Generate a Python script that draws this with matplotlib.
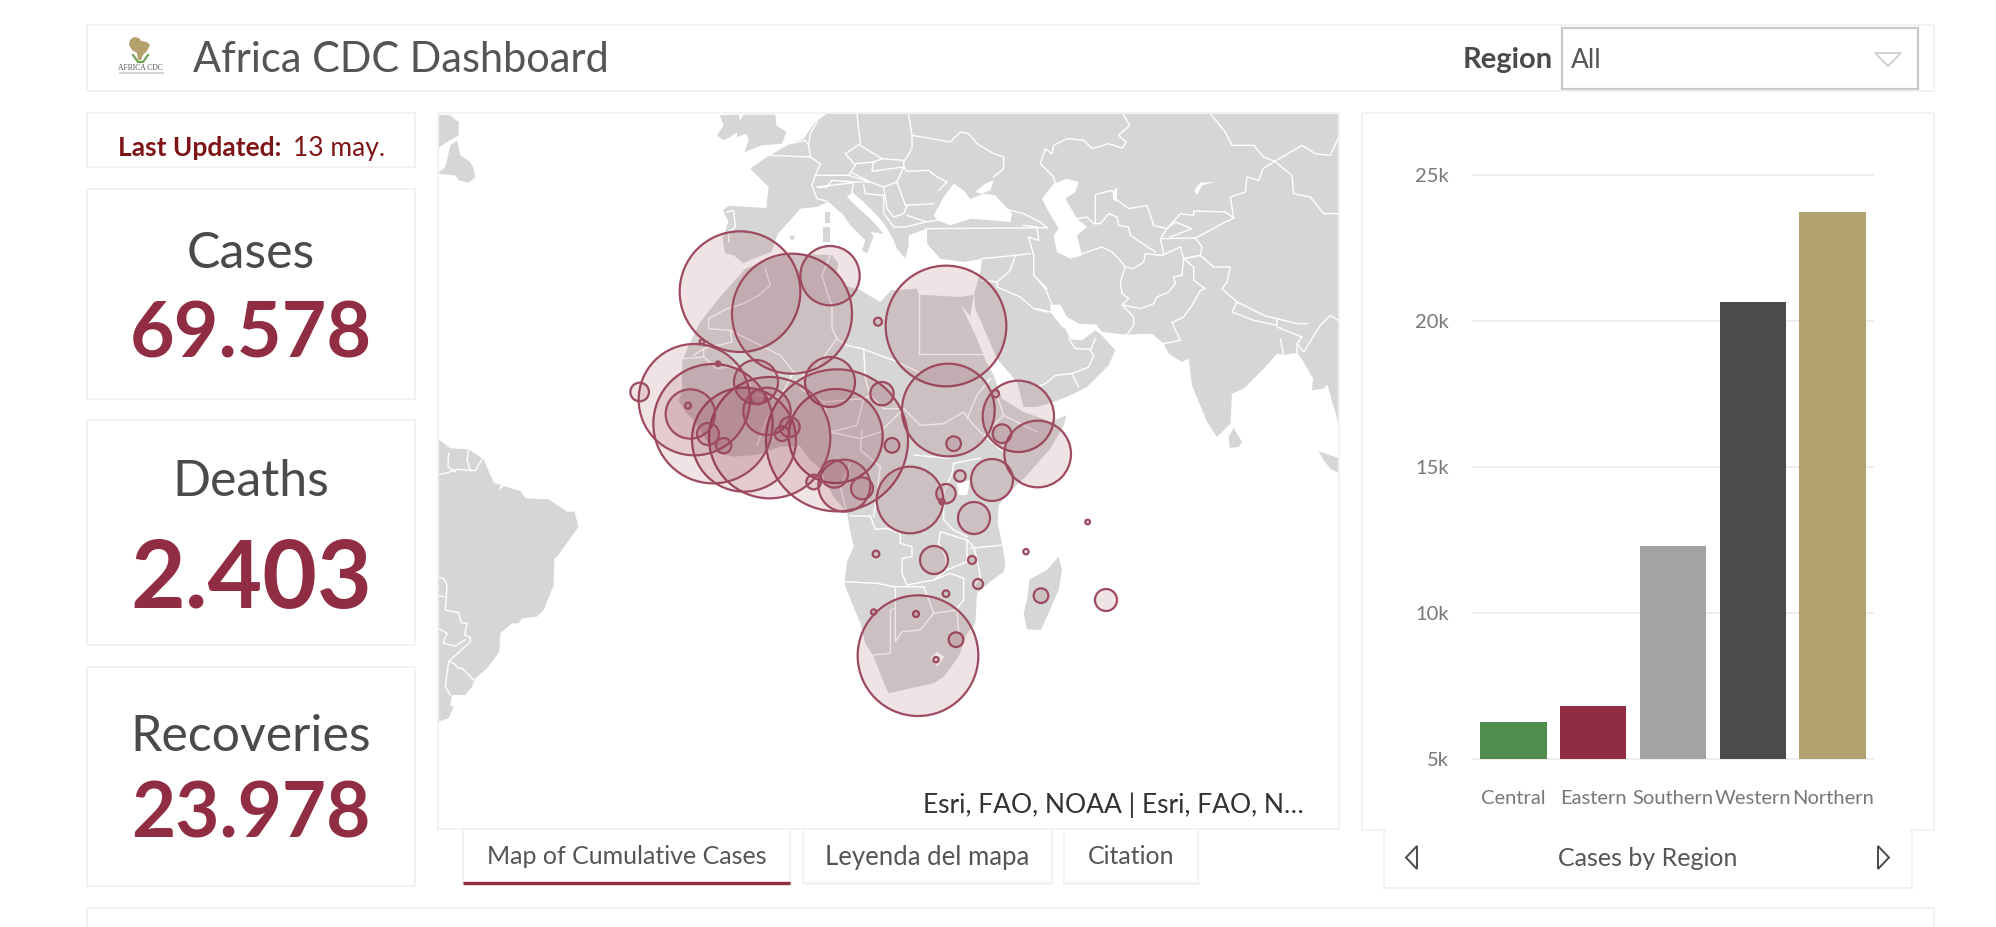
import matplotlib
matplotlib.use("Agg")
import matplotlib.pyplot as plt
from matplotlib.patches import Rectangle, Polygon, Circle

plt.rcParams['font.family'] = ['Lato', 'DejaVu Sans']

W, H = 1996, 927

# kpi cards
kpi_names = ["Cases", "Deaths", "Recoveries"]
kpi_values = ["69.578", "2.403", "23.978"]

# bar chart
regions = ["Central", "Eastern", "Southern", "Western", "Northern"]
region_cases = [6270, 6810, 12290, 20650, 23730]
region_colors = ["#508d4d", "#912d42", "#a3a3a3", "#4b4b4b", "#b1a26f"]
y_ticks = [5000, 10000, 15000, 20000, 25000]
y_labels = ["5k", "10k", "15k", "20k", "25k"]

tabs = ["Map of Cumulative Cases", "Leyenda del mapa", "Citation"]


def at(ox, oy, pts):
    return [(x + ox, y + oy) for x, y in pts]


# map outlines in map units (3 units per pixel)
south_america = at(0, 954, [(-5, 20), (40, 55), (95, 58), (140, 88), (170, 158), (192, 165), (182, 185), (200, 168),
                            (250, 183), (265, 205), (335, 208), (390, 245), (412, 245), (425, 290), (360, 380),
                            (352, 385), (350, 465), (320, 540), (300, 560), (255, 565), (245, 580), (225, 580),
                            (190, 610), (187, 665), (150, 715), (115, 745), (105, 770), (85, 795), (45, 795),
                            (40, 825), (50, 830), (35, 865), (-5, 877)])
canada_a = [(0, 8), (40, 10), (65, 30), (65, 70), (30, 90), (0, 110)]
canada_b = [(60, 85), (40, 100), (25, 165), (0, 185), (55, 190), (65, 205), (95, 212), (115, 195), (110, 170),
            (100, 150), (70, 130)]
ireland = [(848, 10), (905, 8), (915, 50), (880, 75), (860, 85), (840, 70), (860, 40)]
britain = at(900, 0, [(0, 40), (20, 8), (115, 8), (118, 40), (148, 60), (135, 95), (75, 100), (22, 120), (35, 85),
                      (28, 65), (0, 75)])
eurasia = (at(900, 0, [(-42, 295), (-26, 281), (88, 288), (95, 225), (40, 170), (90, 135), (150, 100), (200, 80), (235, 30), (270, 5)])
           + at(1800, 0, [(910, 5), (910, 960), (895, 900), (885, 870), (872, 818), (860, 830), (825, 835), (828, 800),
                          (800, 750), (780, 722), (740, 730), (720, 725), (680, 770), (620, 830), (585, 845), (580, 935),
                          (540, 975), (510, 930), (465, 820), (455, 740), (435, 750), (395, 725), (380, 695), (345, 665),
                          (270, 668), (195, 660), (178, 638), (125, 635), (90, 615), (70, 578), (40, 578), (40, 600),
                          (75, 645), (85, 650), (100, 682), (135, 685), (175, 655), (190, 665), (235, 715), (215, 760),
                          (150, 825), (100, 850), (50, 870), (0, 885)])
           + at(900, 0, [(860, 885), (840, 810), (780, 740), (715, 590), (712, 545), (730, 480), (735, 440), (680, 450),
                         (610, 440), (570, 395), (570, 350), (515, 370), (515, 400), (505, 440), (480, 410), (470, 385),
                         (445, 340), (420, 310), (380, 270), (345, 240), (330, 255), (360, 285), (400, 320), (440, 365),
                         (400, 360), (410, 372), (390, 425), (375, 415), (385, 385), (340, 340), (319, 309), (274, 269),
                         (240, 285), (190, 290), (169, 314), (124, 364), (119, 374), (104, 419), (39, 444), (19, 454),
                         (-11, 429), (-36, 424), (-43, 379), (-26, 329)]))
africa = (at(900, 0, [(24, 471), (79, 449), (149, 427), (189, 427), (284, 429), (304, 454), (297, 489), (319, 519), (369, 534),
                      (430, 570), (462, 535), (540, 530), (545, 548), (670, 555), (710, 548), (700, 612), (672, 578),
                      (720, 680), (745, 745), (770, 790), (795, 860), (860, 900), (930, 925)])
          + at(1800, 0, [(30, 935), (88, 910), (80, 940), (40, 1010)])
          + at(900, 954, [(870, 135), (830, 175), (785, 225), (782, 280), (795, 340), (805, 400), (800, 425), (760, 455),
                          (720, 490), (715, 580), (690, 610), (665, 680), (620, 740), (590, 760), (520, 775), (455, 790),
                          (435, 745), (410, 680), (385, 640), (370, 580), (345, 520), (322, 460), (330, 395), (350, 350),
                          (339, 300), (329, 245), (289, 200), (269, 160), (249, 115), (219, 90), (189, 48), (129, 50),
                          (59, 75), (-11, 80)])
          + at(0, 0, [(830, 1020), (770, 925), (745, 900), (725, 865), (735, 840), (735, 750), (755, 700),
                      (790, 630), (854, 549), (899, 499)]))
madagascar = at(900, 954, [(965, 380), (975, 420), (965, 480), (930, 560), (912, 600), (870, 598), (860, 550), (872, 500),
                           (877, 449), (930, 420)])
sri_lanka = at(1800, 0, [(590, 948), (615, 990), (605, 1005), (578, 1008), (575, 975)])
sumatra = at(1800, 0, [(845, 1018), (910, 1040), (910, 1085), (880, 1070), (860, 1045)])
sardinia = at(900, 0, [(259, 344), (279, 344), (279, 389), (259, 389)])
corsica = at(900, 0, [(264, 299), (279, 299), (279, 334), (264, 334)])
balearic = at(900, 0, [(157, 372), (174, 369), (170, 384), (160, 382)])
land_shapes = [south_america, canada_a, canada_b, ireland, britain, eurasia, africa, madagascar, sri_lanka, sumatra,
               sardinia, corsica, balearic]

black_sea = at(900, 0, [(590, 310), (620, 255), (650, 215), (680, 235), (700, 262), (740, 245), (775, 250), (825, 305),
                        (820, 330), (700, 320), (640, 340), (600, 325)])
azov = at(900, 0, [(715, 240), (745, 215), (770, 205), (760, 235), (735, 245)])
caspian = at(1800, 0, [(15, 260), (50, 215), (90, 200), (125, 210), (115, 240), (85, 260), (120, 320), (150, 345),
                       (120, 370), (135, 430), (100, 440), (60, 420), (50, 370), (65, 350), (30, 290)])
aral = at(1800, 0, [(472, 235), (490, 212), (535, 210), (495, 220), (480, 250)])
balkhash = at(1800, 0, [(228, 240), (240, 225), (240, 270), (228, 262)])
victoria = at(900, 954, [(660, 160), (700, 150), (690, 195), (665, 195)])
lesotho = at(900, 954, [(580, 685), (600, 665), (622, 680), (602, 710)])
water_shapes = [black_sea, azov, caspian, aral, balkhash, victoria, lesotho]

# country borders
borders_sa = [[(-5, 135), (25, 130), (60, 118), (115, 122), (135, 88)], [(35, 70), (33, 110), (55, 125)],
              [(95, 60), (90, 90), (100, 122)],
              [(-5, 440), (20, 445), (30, 465), (25, 540), (65, 548), (72, 578), (90, 580), (83, 615), (100, 622),
               (100, 635), (35, 695), (25, 770), (40, 795)],
              [(35, 695), (50, 700), (65, 715), (75, 715), (110, 750)],
              [(-5, 590), (30, 610), (18, 640), (55, 648), (83, 630)], [(-5, 495), (20, 500)]]
borders_eu = [[(160, 95), (205, 85), (215, 100), (220, 135)], [(100, 130), (220, 135), (250, 155), (235, 190), (225, 220), (240, 260), (270, 268)],
              [(215, 100), (220, 65), (240, 30)], [(360, 8), (370, 95), (325, 125), (355, 160), (335, 190), (280, 190), (240, 190)],
              [(370, 100), (410, 125), (435, 140), (410, 150), (355, 155)], [(410, 150), (405, 178), (460, 170), (500, 165), (500, 145), (435, 140)],
              [(515, 8), (525, 70), (525, 110), (500, 150)], [(525, 70), (640, 90), (670, 60), (695, 65), (720, 95), (770, 125), (800, 135), (800, 170), (770, 195)],
              [(500, 165), (510, 178), (575, 175), (600, 195), (630, 210), (605, 235)],
              [(500, 165), (480, 210), (440, 225), (400, 210), (340, 180)], [(335, 190), (400, 210), (350, 210), (285, 205), (270, 225), (240, 225), (350, 212), (345, 238)],
              [(440, 225), (445, 255), (450, 290), (470, 315), (500, 305), (510, 280)], [(380, 220), (385, 245), (440, 250), (440, 305)],
              [(480, 210), (505, 280), (590, 275)], [(510, 310), (570, 330), (600, 325)], [(445, 310), (470, 345), (505, 345), (565, 330)],
              [(570, 350), (930, 347)], [(800, 290), (860, 305), (910, 330), (930, 347)], [(860, 340), (900, 345), (905, 385), (875, 375), (890, 430), (890, 490), (930, 530)],
              [(735, 440), (835, 430), (880, 425)], [(835, 430), (820, 475), (780, 510), (780, 525), (850, 555), (890, 590), (930, 600)], [(780, 510), (735, 505)],
              [(-30, 300), (-10, 295), (-5, 345), (-25, 360), (-25, 390)]]
borders_as = [[(258, 5), (278, 40), (245, 70), (268, 90), (255, 108), (215, 95), (165, 110), (140, 85), (90, 80), (50, 100), (45, 125), (25, 110), (10, 155), (50, 195), (55, 215)],
              [(175, 335), (175, 248), (225, 235), (235, 260), (275, 290), (330, 280), (350, 340), (390, 350), (430, 305), (470, 310), (470, 297), (565, 300), (590, 318), (580, 255), (625, 240), (630, 195), (665, 205), (678, 170), (713, 148), (765, 190), (770, 245), (820, 255), (860, 305), (910, 305)],
              [(520, 5), (565, 60), (585, 100), (650, 100), (680, 135), (713, 148), (795, 100), (835, 125), (880, 130), (910, 65)],
              [(120, 320), (150, 315), (170, 335), (190, 335), (215, 305), (240, 315), (245, 340), (275, 345), (280, 370), (355, 420)],
              [(135, 425), (195, 405), (225, 420), (245, 440), (265, 465), (290, 470), (320, 450), (325, 425), (375, 430), (430, 405), (440, 440), (435, 490), (410, 495), (415, 515), (395, 540), (360, 555), (350, 575), (310, 590), (255, 578)],
              [(265, 465), (250, 510), (255, 545), (275, 560), (255, 578), (290, 615), (290, 640), (270, 668)],
              [(440, 440), (470, 465), (470, 505), (505, 530), (490, 535), (465, 580), (440, 615), (405, 632), (430, 685), (380, 695)],
              [(440, 440), (490, 430), (530, 465), (580, 465), (570, 510), (555, 530), (600, 570), (685, 612), (720, 620), (720, 640), (650, 625), (585, 600), (600, 570)],
              [(720, 620), (780, 635), (810, 635)], [(720, 645), (795, 675), (780, 695), (780, 722)], [(730, 680), (740, 730)],
              [(780, 695), (800, 720), (850, 640), (880, 610), (910, 630)], [(370, 380), (475, 378), (520, 355), (545, 340), (590, 318)],
              [(400, 375), (465, 350), (415, 330), (390, 350), (370, 380), (380, 425)], [(475, 378), (495, 405), (490, 430), (440, 440)],
              [(175, 680), (160, 715), (170, 730), (155, 765), (105, 785), (55, 790), (25, 815), (0, 825)], [(105, 785), (125, 825)], [(95, 680), (115, 710), (160, 712)],
              [(0, 500), (25, 530), (45, 578)], [(0, 590), (40, 600)]]
borders_af_n = [[(280, 430), (255, 490), (270, 540), (285, 580), (285, 650), (300, 680), (330, 700), (375, 710), (470, 745), (545, 780)],
                [(545, 548), (545, 725), (740, 725)], [(380, 710), (385, 800), (400, 850), (440, 890), (500, 890), (550, 940), (620, 935), (680, 900), (710, 940), (735, 965)],
                [(85, 470), (100, 520), (65, 550), (20, 575), (-30, 590), (-85, 620), (-85, 650), (-20, 655), (30, 680), (130, 730), (170, 780), (220, 790), (300, 680)],
                [(-130, 730), (-100, 710), (-100, 735), (-160, 740)], [(-20, 655), (-15, 690), (-100, 710)], [(-100, 735), (-60, 770), (0, 760), (60, 850), (130, 855), (170, 780)],
                [(190, 830), (260, 870), (380, 860), (400, 850)], [(260, 870), (280, 960), (360, 940), (380, 860)], [(130, 855), (90, 920), (60, 1000)], [(280, 960), (370, 980), (430, 960), (500, 890)],
                [(760, 800), (720, 850), (690, 920)], [(780, 850), (800, 910), (900, 960)], [(800, 910), (740, 970), (800, 1020)]]
borders_af_s = [[(340, 258), (400, 258), (415, 298), (450, 295), (490, 310), (490, 340), (525, 350), (525, 380), (495, 385), (495, 430), (510, 465)],
                [(320, 455), (420, 460), (470, 470), (560, 470)], [(510, 465), (590, 450), (630, 420), (690, 395), (690, 330), (610, 305), (605, 340), (625, 380), (630, 420)],
                [(690, 330), (710, 350), (725, 410), (730, 440), (710, 470)], [(700, 355), (800, 345)], [(590, 450), (640, 430), (680, 445), (680, 510), (660, 535), (665, 610)],
                [(475, 475), (475, 535), (460, 540), (460, 670), (410, 675)], [(475, 535), (475, 635), (495, 605), (550, 600), (590, 550), (660, 540)],
                [(560, 470), (570, 495), (590, 550)], [(650, 100), (645, 130), (620, 190), (620, 270), (650, 300), (690, 320)], [(650, 100), (700, 90), (730, 85)],
                [(530, 75), (640, 85)], [(430, 110), (370, 60), (375, 0)], [(430, 110), (420, 190), (410, 260)], [(340, 100), (310, 170), (330, 250)]]
borders = ([at(0, 954, b) for b in borders_sa] + [at(900, 0, b) for b in borders_eu] + [at(1800, 0, b) for b in borders_as]
           + [at(900, 0, b) for b in borders_af_n] + [at(900, 954, b) for b in borders_af_s])

# proportional circles: x, y, radius
circle_x = [909, 1065, 1179, 1527, 1534, 1744, 1802, 1675, 1695, 1550, 1323, 1335, 1179, 1365, 1196, 1200, 998, 921, 828,
            772, 760, 753, 608, 813, 860, 795, 957, 990, 1035, 1058, 963, 1222, 1192, 1130, 1275, 1419, 1527, 1515, 1569,
            1665, 1611, 1317, 1491, 1605, 1767, 1812, 1623, 1527, 1437, 1310, 1557, 1497, 1443, 2007, 1952]
circle_y = [539, 605, 491, 642, 894, 913, 1026, 845, 965, 995, 629, 845, 810, 1000, 972, 985, 977, 983, 935,
            863, 906, 881, 840, 966, 1001, 689, 810, 898, 965, 945, 855, 1121, 1086, 1110, 1129, 1164, 1145, 1169, 1092,
            1104, 1218, 1326, 1344, 1344, 1319, 1451, 1416, 1445, 1506, 1500, 1583, 1643, 1631, 1464, 1230]
circle_r = [181, 180, 89, 181, 139, 107, 100, 11, 28, 22, 12, 35, 75, 22, 141, 213, 182, 156, 179,
            167, 74, 9, 28, 33, 23, 7, 66, 71, 22, 30, 22, 78, 41, 22, 33, 100, 29, 8, 17,
            63, 48, 10, 42, 12, 8, 22, 15, 10, 9, 8, 22, 8, 181, 33, 7]
filled_dot = (843, 755, 8)

logo_africa = [(130, 40), (134, 37), (139, 38), (141, 41), (147, 42), (150, 45), (147, 51), (143, 55), (141, 60), (138, 60),
               (137, 53), (132, 50), (129, 45)]

INK = "#4a4a4a"
THIN = "#555555"
RED = "#912d42"
PANEL = "#f2f2f2"

fig = plt.figure(figsize=(W / 100, H / 100), dpi=100, facecolor="white")


def px_axes(x0, y0, x1, y1):
    return fig.add_axes([x0 / W, 1 - y1 / H, (x1 - x0) / W, (y1 - y0) / H])


bg = px_axes(0, 0, W, H)
bg.set_xlim(0, W)
bg.set_ylim(H, 0)
bg.axis("off")


def panel(x0, y0, x1, y1, ec=PANEL, lw=1.4):
    bg.add_patch(Rectangle((x0, y0), x1 - x0, y1 - y0, fc="white", ec=ec, lw=lw))


# panels
panel(87, 25, 1934, 91)
panel(87, 113, 415, 167)
panel(87, 189, 415, 399)
panel(87, 420, 415, 645)
panel(87, 667, 415, 886)
panel(438, 113, 1339, 829)
panel(1384, 800, 1912, 888)
panel(1362, 113, 1934, 830)
bg.add_patch(Rectangle((1386, 826), 524, 8, fc="white", ec="none", zorder=2))
panel(87, 908, 1934, 940)

# header
bg.add_patch(Polygon(logo_africa, fc="#b3a06a", ec="none"))
bg.plot([133, 138, 140], [55, 62, 62], color="#6fa35a", lw=1.6)
bg.plot([148, 143, 141], [55, 62, 62], color="#6fa35a", lw=1.6)
bg.text(140.5, 68, "AFRICA CDC", fontsize=5.5, family="Liberation Serif", color="#555555", ha="center", va="center")
bg.plot([120, 163], [73, 73], color="#cccccc", lw=1.2)
bg.text(193, 60, "Africa CDC Dashboard", fontsize=29.9, color=THIN, ha="left", va="center")
bg.text(1553, 60, "Region", fontsize=21, fontweight="bold", color=INK, ha="right", va="center")
bg.add_patch(Rectangle((1562, 28), 356, 61, fc="white", ec="#c9c9c9", lw=1.6))
bg.text(1571, 60, "All", fontsize=19, color=THIN, ha="left", va="center")
bg.add_patch(Polygon([(1875, 53), (1901, 53), (1888, 66)], fc="white", ec="#cfcfcf", lw=1.3))

# last updated
bg.text(118, 148, "Last Updated:", fontsize=19, fontweight="bold", color="#7d1416", ha="left", va="center")
bg.text(293, 148, "13 may.", fontsize=19, color="#7d1416", ha="left", va="center")

# kpi cards
for name, value, yn, yv, fsv in zip(kpi_names, kpi_values, [254, 482, 737], [335, 581, 816], [55.5, 68, 55]):
    bg.text(251, yn, name, fontsize=36, color=INK, ha="center", va="center")
    bg.text(251, yv, value, fontsize=fsv, fontweight="bold", color=RED, ha="center", va="center")

# tabs
for (x0, x1), label, fs in zip([(463, 790), (803, 1052), (1064, 1198)], tabs, [18, 18.5, 18]):
    bg.plot([x0, x0], [829, 883], color=PANEL, lw=1.4)
    bg.plot([x1, x1], [829, 883], color=PANEL, lw=1.4)
    bg.plot([x0, x1], [883, 883], color=PANEL, lw=2.2)
    bg.text((x0 + x1) / 2, 857, label, fontsize=fs, color=THIN, ha="center", va="center")
bg.plot([463, 790], [882.5, 882.5], color=RED, lw=2.4, solid_capstyle="butt")

# chart footer
bg.text(1648, 859, "Cases by Region", fontsize=18, color=THIN, ha="center", va="center")
bg.add_patch(Polygon([(1417, 846), (1417, 869), (1406, 857.5)], fc="white", ec=INK, lw=1.4))
bg.add_patch(Polygon([(1878, 846), (1878, 869), (1889, 857.5)], fc="white", ec=INK, lw=1.4))

# map
ax_map = px_axes(439, 114, 1338, 828)
ax_map.set_xlim(6, 2703)
ax_map.set_ylim(2148, 6)
ax_map.axis("off")
ax_map.patch.set_alpha(0)
for shape in land_shapes:
    ax_map.add_patch(Polygon(shape, fc="#d6d6d6", ec="none", zorder=1))
for shape in water_shapes:
    ax_map.add_patch(Polygon(shape, fc="white", ec="none", zorder=2))
for line in borders:
    ax_map.plot([p[0] for p in line], [p[1] for p in line], color="white", lw=1.0, zorder=3, solid_joinstyle="round")
for cx, cy, r in zip(circle_x, circle_y, circle_r):
    ax_map.add_patch(Circle((cx, cy), r, fc=(0.557, 0.173, 0.259, 0.13), ec="#9e4b60", lw=1.6, zorder=4))
ax_map.add_patch(Circle(filled_dot[:2], filled_dot[2], fc="#9e4b60", ec="#9e4b60", lw=1, zorder=5))
fig.text(923 / W, 1 - 805 / H, "Esri, FAO, NOAA | Esri, FAO, N…", fontsize=19, color="#323232", ha="left", va="center")

# bars
ax = px_axes(1473.5, 175, 1872.5, 759)
ax.patch.set_alpha(0)
ax.bar(range(len(regions)), region_cases, width=0.83, color=region_colors, zorder=3)
ax.set_xlim(-0.5, 4.5)
ax.set_ylim(5000, 25000)
ax.set_yticks(y_ticks, y_labels)
ax.set_xticks(range(len(regions)), regions)
ax.tick_params(axis="both", length=0, labelsize=14.5, labelcolor="#777777")
ax.tick_params(axis="y", pad=18)
ax.tick_params(axis="x", pad=22)
ax.grid(axis="y", color="#eeeeee", lw=1.5, zorder=0, clip_on=False)
for side in ax.spines.values():
    side.set_visible(False)

fig.savefig("out.png", dpi=100)
